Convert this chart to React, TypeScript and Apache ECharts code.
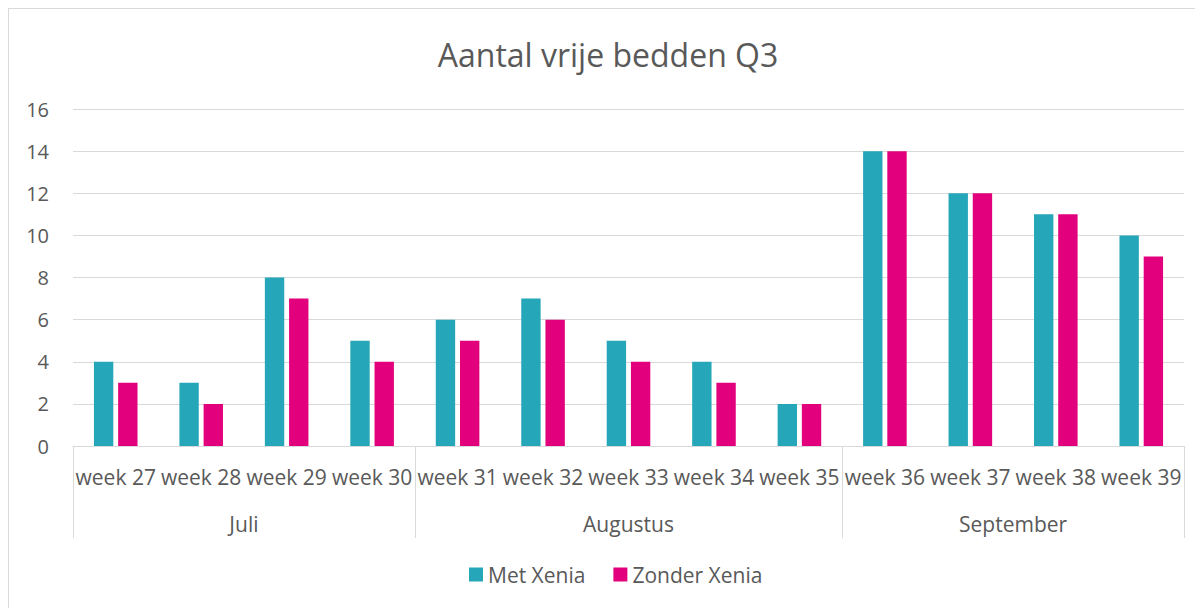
import React, { useEffect, useRef } from "react";
import * as echarts from "echarts";

const weeks = [
  "week 27", "week 28", "week 29", "week 30",
  "week 31", "week 32", "week 33", "week 34", "week 35",
  "week 36", "week 37", "week 38", "week 39",
];
const months = ["Juli", "Augustus", "September"];
const weeksPerMonth = [4, 5, 4];
const metXenia = [4, 3, 8, 5, 6, 7, 5, 4, 2, 14, 12, 11, 10];
const zonderXenia = [3, 2, 7, 4, 5, 6, 4, 3, 2, 14, 12, 11, 9];
const yTicks = { min: 0, max: 16, interval: 2 };

const FONT = "'Open Sans', 'Noto Sans', sans-serif";
const TEXT = "#595959";
const LINE = "#D9D9D9";

export default function App() {
  const ref = useRef<HTMLDivElement>(null);

  useEffect(() => {
    if (!ref.current) return;
    const chart = echarts.init(ref.current, undefined, { renderer: "svg" });

    // month boundaries and centres, in category units
    const bounds: number[] = [0];
    weeksPerMonth.forEach((n) => bounds.push(bounds[bounds.length - 1] + n));
    const centres = months.map((_, i) => (bounds[i] + bounds[i + 1]) / 2);

    chart.setOption({
      animation: false,
      textStyle: { fontFamily: FONT, color: TEXT },
      title: {
        text: "Aantal vrije bedden Q3",
        left: "center",
        top: 24,
        textStyle: { fontFamily: FONT, fontSize: 32, fontWeight: "normal", color: TEXT },
      },
      legend: {
        bottom: 27,
        left: 455,
        icon: "rect",
        itemWidth: 14,
        itemHeight: 14,
        itemGap: 28,
        textStyle: { fontFamily: FONT, fontSize: 21, color: TEXT },
        data: ["Met Xenia", "Zonder Xenia"],
      },
      grid: { left: 64, right: 23, top: 100, bottom: 171, containLabel: false },
      xAxis: [
        {
          type: "category",
          data: weeks,
          axisLine: { show: true, lineStyle: { color: LINE, width: 1 } },
          axisTick: { show: false },
          axisLabel: {
            interval: 0,
            margin: 20,
            fontFamily: FONT,
            fontSize: 21,
            color: TEXT,
          },
        },
        {
          type: "value",
          position: "bottom",
          min: 0,
          max: weeks.length,
          axisLine: { show: false },
          splitLine: { show: false },
          axisTick: {
            show: true,
            customValues: bounds,
            length: 92,
            lineStyle: { color: LINE, width: 1 },
          },
          axisLabel: {
            show: true,
            customValues: centres,
            margin: 67,
            fontFamily: FONT,
            fontSize: 21,
            color: TEXT,
            formatter: (v: number) => {
              const i = centres.findIndex((c) => Math.abs(c - v) < 1e-6);
              return i >= 0 ? months[i] : "";
            },
          },
        },
      ],
      yAxis: {
        type: "value",
        min: yTicks.min,
        max: yTicks.max,
        interval: yTicks.interval,
        axisLine: { show: false },
        axisTick: { show: false },
        axisLabel: { fontFamily: FONT, fontSize: 20, color: TEXT, margin: 24 },
        splitLine: { lineStyle: { color: LINE, width: 1 } },
      },
      series: [
        {
          name: "Met Xenia",
          type: "bar",
          xAxisIndex: 0,
          data: metXenia,
          itemStyle: { color: "#25A7B9" },
          barGap: "25%",
          barCategoryGap: "49%",
        },
        {
          name: "Zonder Xenia",
          type: "bar",
          xAxisIndex: 0,
          data: zonderXenia,
          itemStyle: { color: "#E3007D" },
          barGap: "25%",
          barCategoryGap: "49%",
        },
      ],
    });

    return () => chart.dispose();
  }, []);

  return (
    <div
      ref={ref}
      style={{
        width: 1200,
        height: 610,
        border: `1px solid ${LINE}`,
        boxSizing: "border-box",
        background: "#fff",
      }}
    />
  );
}
